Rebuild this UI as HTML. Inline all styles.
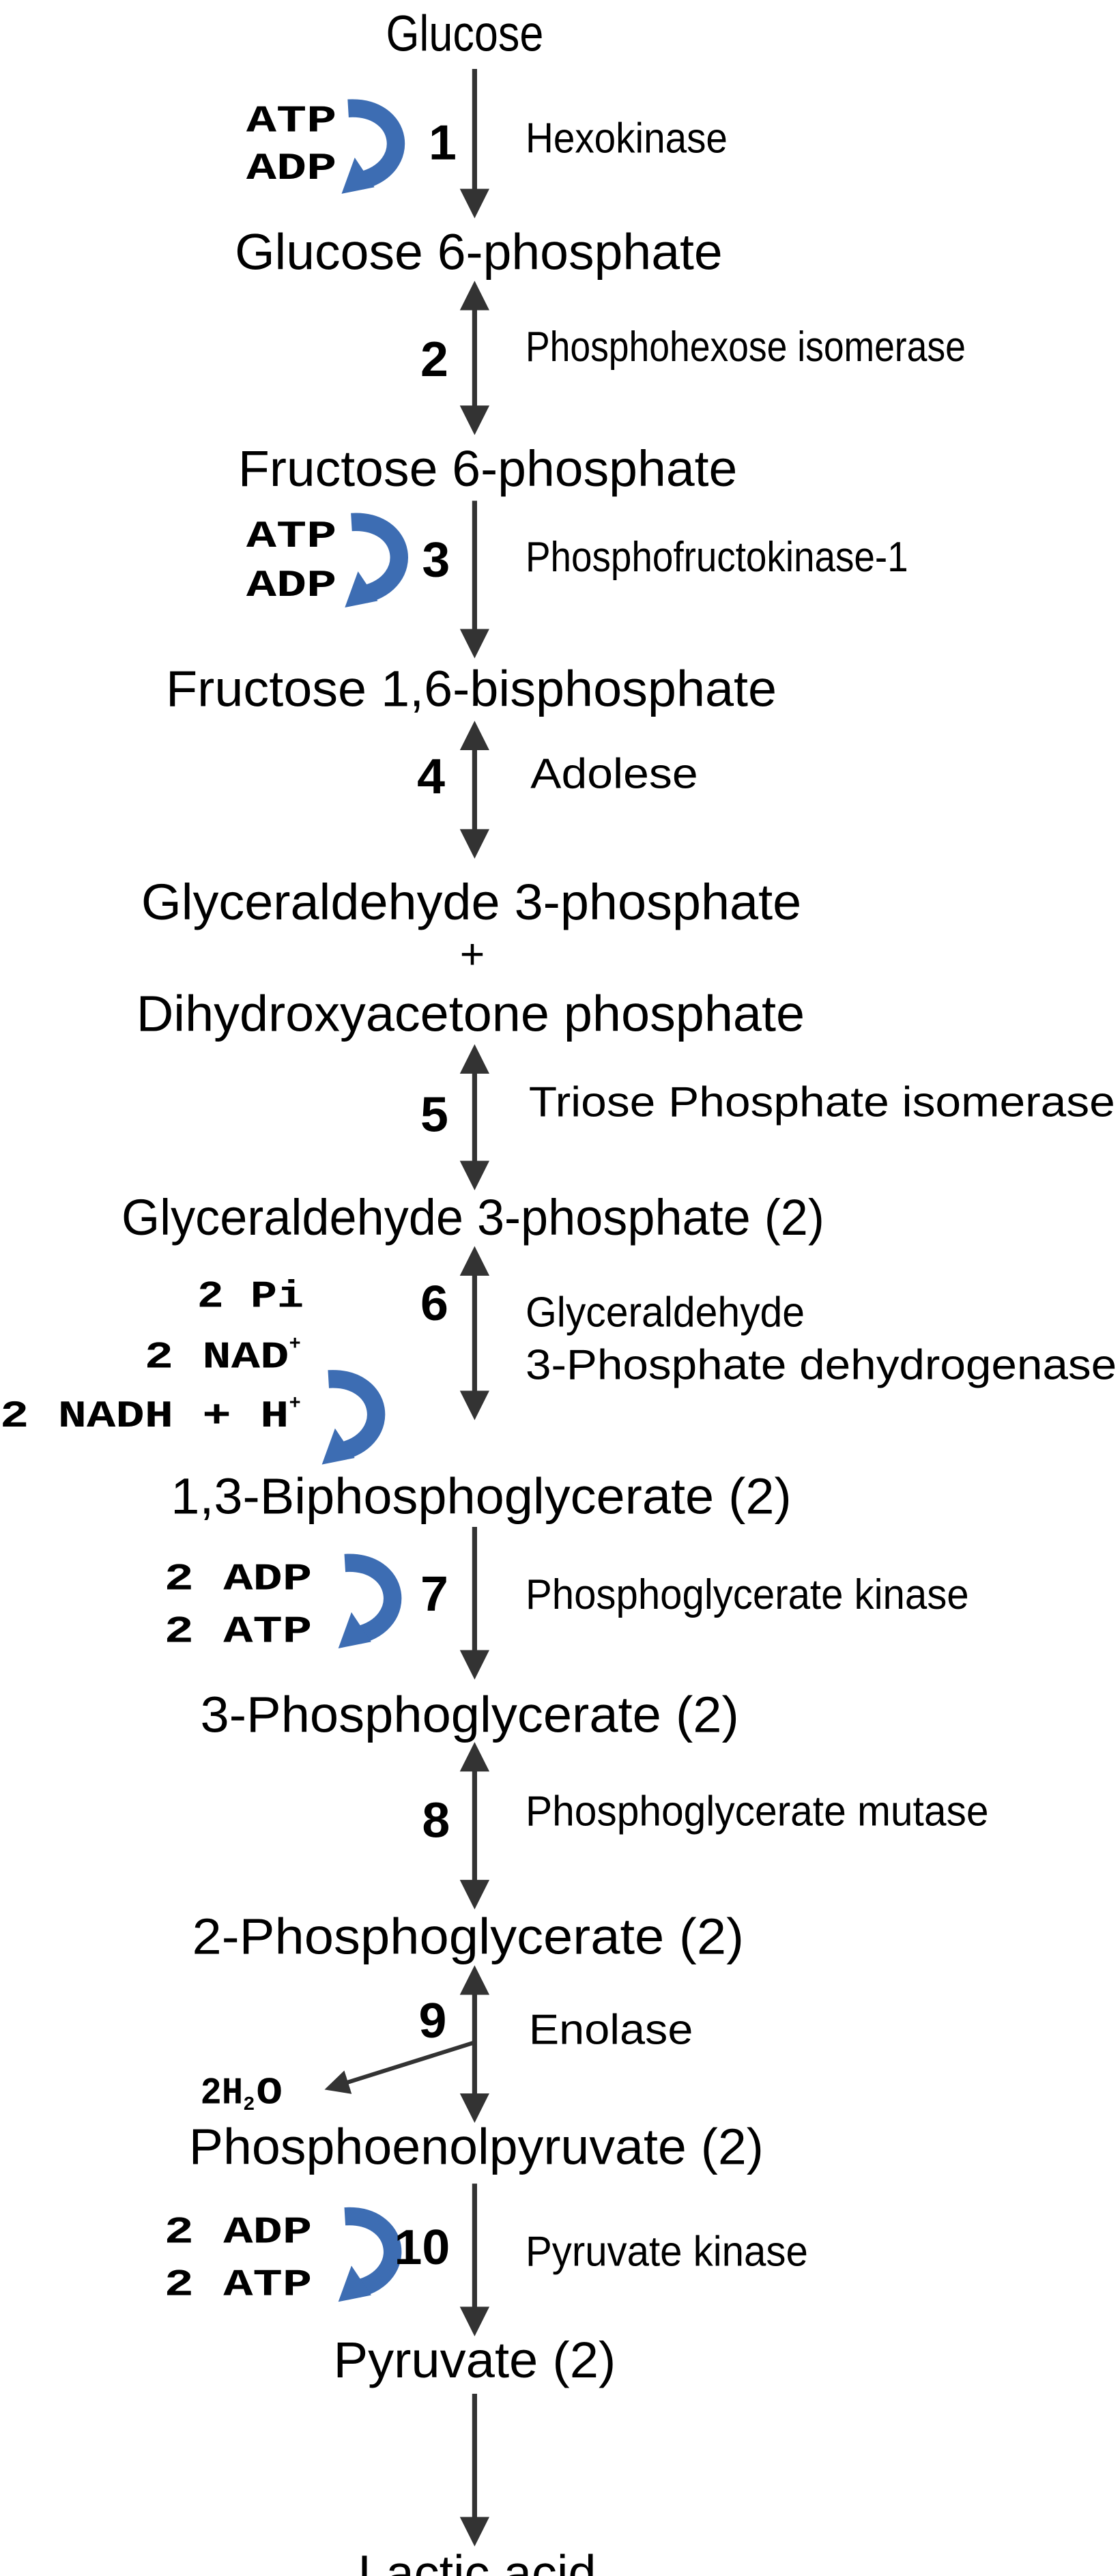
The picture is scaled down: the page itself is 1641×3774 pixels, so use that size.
<!DOCTYPE html>
<html><head><meta charset="utf-8"><style>
html,body{margin:0;padding:0;background:#fff;}
svg{display:block;}
.m{font-family:"Liberation Sans",Arial,sans-serif;font-size:31px;fill:#000;}
.e{font-family:"Liberation Sans",Arial,sans-serif;font-size:26px;fill:#000;}
.n{font-family:"Liberation Sans",Arial,sans-serif;font-size:30px;font-weight:bold;fill:#000;}
.c{font-family:"Liberation Mono","Courier New",monospace;font-size:23px;font-weight:bold;fill:#000;}
.s{font-family:"Liberation Mono",monospace;font-size:12px;font-weight:bold;fill:#000;}
</style></head><body>
<svg width="1641" height="3774" viewBox="0 0 682 1569" preserveAspectRatio="none" xmlns="http://www.w3.org/2000/svg">
<defs>
<marker id="h" markerWidth="6" markerHeight="6" refX="5" refY="3" orient="auto" markerUnits="strokeWidth">
<path d="M0,0 L6,3 L0,6 z" fill="#333"/></marker>
<marker id="t" markerWidth="6" markerHeight="6" refX="1" refY="3" orient="auto" markerUnits="strokeWidth">
<path d="M6,0 L0,3 L6,6 z" fill="#333"/></marker>
<g id="blue">
<path d="M0,0 C34,-2 40,36 8,44" fill="none" stroke="#3d6db3" stroke-width="11"/>
<path d="M-4,52 L4,30 L16,48 z" fill="#3d6db3"/>
</g>
</defs>
<g stroke="#333" stroke-width="3">
<line x1="289" y1="42" x2="289" y2="130" marker-end="url(#h)"/>
<line x1="289" y1="174" x2="289" y2="262" marker-start="url(#t)" marker-end="url(#h)"/>
<line x1="289" y1="305" x2="289" y2="398" marker-end="url(#h)"/>
<line x1="289" y1="442" x2="289" y2="520" marker-start="url(#t)" marker-end="url(#h)"/>
<line x1="289" y1="639" x2="289" y2="722" marker-start="url(#t)" marker-end="url(#h)"/>
<line x1="289" y1="762" x2="289" y2="862" marker-start="url(#t)" marker-end="url(#h)"/>
<line x1="289" y1="930" x2="289" y2="1020" marker-end="url(#h)"/>
<line x1="289" y1="1064" x2="289" y2="1160" marker-start="url(#t)" marker-end="url(#h)"/>
<line x1="289" y1="1200" x2="289" y2="1290" marker-start="url(#t)" marker-end="url(#h)"/>
<line x1="289" y1="1244" x2="200" y2="1272" marker-end="url(#h)" stroke-width="2.5"/>
<line x1="289" y1="1330" x2="289" y2="1420" marker-end="url(#h)"/>
<line x1="289" y1="1458" x2="289" y2="1548" marker-end="url(#h)"/>
</g>
<use href="#blue" x="212" y="66"/>
<use href="#blue" x="214" y="318"/>
<use href="#blue" x="200" y="840"/>
<use href="#blue" x="210" y="952"/>
<use href="#blue" x="210" y="1350"/>

<text class="m" x="235" y="31" textLength="96" lengthAdjust="spacingAndGlyphs">Glucose</text>
<text class="m" x="143" y="164" textLength="297" lengthAdjust="spacingAndGlyphs">Glucose 6-phosphate</text>
<text class="m" x="145" y="296" textLength="304" lengthAdjust="spacingAndGlyphs">Fructose 6-phosphate</text>
<text class="m" x="101" y="430" textLength="372" lengthAdjust="spacingAndGlyphs">Fructose 1,6-bisphosphate</text>
<text class="m" x="86" y="560" textLength="402" lengthAdjust="spacingAndGlyphs">Glyceraldehyde 3-phosphate</text>
<text class="e" x="280" y="590">+</text>
<text class="m" x="83" y="628" textLength="407" lengthAdjust="spacingAndGlyphs">Dihydroxyacetone phosphate</text>
<text class="m" x="74" y="752" textLength="428" lengthAdjust="spacingAndGlyphs">Glyceraldehyde 3-phosphate (2)</text>
<text class="m" x="104" y="922" textLength="378" lengthAdjust="spacingAndGlyphs">1,3-Biphosphoglycerate (2)</text>
<text class="m" x="122" y="1055" textLength="328" lengthAdjust="spacingAndGlyphs">3-Phosphoglycerate (2)</text>
<text class="m" x="117" y="1190" textLength="336" lengthAdjust="spacingAndGlyphs">2-Phosphoglycerate (2)</text>
<text class="m" x="115" y="1318" textLength="350" lengthAdjust="spacingAndGlyphs">Phosphoenolpyruvate (2)</text>
<text class="m" x="203" y="1448" textLength="172" lengthAdjust="spacingAndGlyphs">Pyruvate (2)</text>
<text class="m" x="218" y="1578" textLength="145" lengthAdjust="spacingAndGlyphs">Lactic acid</text>

<text class="e" x="320" y="93" textLength="123" lengthAdjust="spacingAndGlyphs">Hexokinase</text>
<text class="e" x="320" y="220" textLength="268" lengthAdjust="spacingAndGlyphs">Phosphohexose isomerase</text>
<text class="e" x="320" y="348" textLength="233" lengthAdjust="spacingAndGlyphs">Phosphofructokinase-1</text>
<text class="e" x="323" y="480" textLength="102" lengthAdjust="spacingAndGlyphs">Adolese</text>
<text class="e" x="322" y="680" textLength="357" lengthAdjust="spacingAndGlyphs">Triose Phosphate isomerase</text>
<text class="e" x="320" y="808" textLength="170" lengthAdjust="spacingAndGlyphs">Glyceraldehyde</text>
<text class="e" x="320" y="840" textLength="360" lengthAdjust="spacingAndGlyphs">3-Phosphate dehydrogenase</text>
<text class="e" x="320" y="980" textLength="270" lengthAdjust="spacingAndGlyphs">Phosphoglycerate kinase</text>
<text class="e" x="320" y="1112" textLength="282" lengthAdjust="spacingAndGlyphs">Phosphoglycerate mutase</text>
<text class="e" x="322" y="1245" textLength="100" lengthAdjust="spacingAndGlyphs">Enolase</text>
<text class="e" x="320" y="1380" textLength="172" lengthAdjust="spacingAndGlyphs">Pyruvate kinase</text>

<text class="n" x="261" y="97" textLength="17" lengthAdjust="spacingAndGlyphs">1</text>
<text class="n" x="256" y="229" textLength="17" lengthAdjust="spacingAndGlyphs">2</text>
<text class="n" x="257" y="351" textLength="17" lengthAdjust="spacingAndGlyphs">3</text>
<text class="n" x="254" y="483" textLength="17" lengthAdjust="spacingAndGlyphs">4</text>
<text class="n" x="256" y="689" textLength="17" lengthAdjust="spacingAndGlyphs">5</text>
<text class="n" x="256" y="804" textLength="17" lengthAdjust="spacingAndGlyphs">6</text>
<text class="n" x="256" y="981" textLength="17" lengthAdjust="spacingAndGlyphs">7</text>
<text class="n" x="257" y="1119" textLength="17" lengthAdjust="spacingAndGlyphs">8</text>
<text class="n" x="255" y="1241" textLength="17" lengthAdjust="spacingAndGlyphs">9</text>
<text class="n" x="240" y="1379" textLength="34" lengthAdjust="spacingAndGlyphs">10</text>

<text class="c" x="150" y="80" textLength="55" lengthAdjust="spacingAndGlyphs">ATP</text>
<text class="c" x="150" y="109" textLength="55" lengthAdjust="spacingAndGlyphs">ADP</text>
<text class="c" x="150" y="333" textLength="55" lengthAdjust="spacingAndGlyphs">ATP</text>
<text class="c" x="150" y="363" textLength="55" lengthAdjust="spacingAndGlyphs">ADP</text>
<text class="c" x="120" y="796" textLength="65" lengthAdjust="spacingAndGlyphs">2 Pi</text>
<text class="c" x="88" y="833" textLength="88" lengthAdjust="spacingAndGlyphs">2 NAD</text>
<text class="s" x="176" y="822">+</text>
<text class="c" x="0" y="869" textLength="176" lengthAdjust="spacingAndGlyphs">2 NADH + H</text>
<text class="s" x="176" y="858">+</text>
<text class="c" x="100" y="968" textLength="90" lengthAdjust="spacingAndGlyphs">2 ADP</text>
<text class="c" x="100" y="1000" textLength="90" lengthAdjust="spacingAndGlyphs">2 ATP</text>
<text class="c" x="122" y="1281" textLength="26" lengthAdjust="spacingAndGlyphs">2H</text>
<text class="s" x="148" y="1285">2</text>
<text class="c" x="156" y="1281" textLength="16" lengthAdjust="spacingAndGlyphs">O</text>
<text class="c" x="100" y="1366" textLength="90" lengthAdjust="spacingAndGlyphs">2 ADP</text>
<text class="c" x="100" y="1398" textLength="90" lengthAdjust="spacingAndGlyphs">2 ATP</text>
</svg>
</body></html>
